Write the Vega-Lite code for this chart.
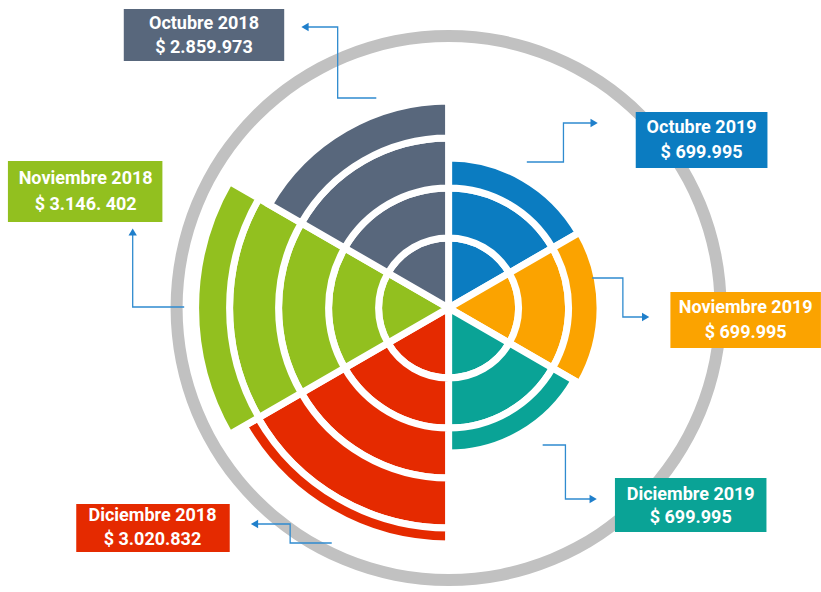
{
  "$schema": "https://vega.github.io/schema/vega-lite/v6.json",
  "width": 821,
  "height": 592,
  "autosize": {"type": "fit", "contains": "padding"},
  "padding": 0,
  "background": "white",
  "config": {"view": {"stroke": null}},
  "datasets": {
    "anillo": [{"r0": 266, "r1": 278, "a0": 0, "a1": 360}],
    "bandas": [
      {"sector": "Octubre 2019", "banda": 1, "a0": 0, "a1": 60, "r0": 0, "r1": 70},
      {"sector": "Octubre 2019", "banda": 2, "a0": 0, "a1": 60, "r0": 70, "r1": 120},
      {"sector": "Octubre 2019", "banda": 3, "a0": 0, "a1": 60, "r0": 120, "r1": 150},
      {"sector": "Noviembre 2019", "banda": 1, "a0": 60, "a1": 120, "r0": 0, "r1": 70},
      {"sector": "Noviembre 2019", "banda": 2, "a0": 60, "a1": 120, "r0": 70, "r1": 120},
      {"sector": "Noviembre 2019", "banda": 3, "a0": 60, "a1": 120, "r0": 120, "r1": 151.5},
      {"sector": "Diciembre 2019", "banda": 1, "a0": 120, "a1": 180, "r0": 0, "r1": 70},
      {"sector": "Diciembre 2019", "banda": 2, "a0": 120, "a1": 180, "r0": 70, "r1": 120},
      {"sector": "Diciembre 2019", "banda": 3, "a0": 120, "a1": 180, "r0": 120, "r1": 145},
      {"sector": "Diciembre 2018", "banda": 1, "a0": 180, "a1": 240, "r0": 0, "r1": 70},
      {"sector": "Diciembre 2018", "banda": 2, "a0": 180, "a1": 240, "r0": 70, "r1": 120},
      {"sector": "Diciembre 2018", "banda": 3, "a0": 180, "a1": 240, "r0": 120, "r1": 170},
      {"sector": "Diciembre 2018", "banda": 4, "a0": 180, "a1": 240, "r0": 170, "r1": 220},
      {"sector": "Diciembre 2018", "banda": 5, "a0": 180, "a1": 240, "r0": 220, "r1": 236},
      {"sector": "Noviembre 2018", "banda": 1, "a0": 240, "a1": 300, "r0": 0, "r1": 70},
      {"sector": "Noviembre 2018", "banda": 2, "a0": 240, "a1": 300, "r0": 70, "r1": 120},
      {"sector": "Noviembre 2018", "banda": 3, "a0": 240, "a1": 300, "r0": 120, "r1": 170},
      {"sector": "Noviembre 2018", "banda": 4, "a0": 240, "a1": 300, "r0": 170, "r1": 219},
      {"sector": "Noviembre 2018", "banda": 5, "a0": 240, "a1": 300, "r0": 219, "r1": 253},
      {"sector": "Octubre 2018", "banda": 1, "a0": 300, "a1": 360, "r0": 0, "r1": 70},
      {"sector": "Octubre 2018", "banda": 2, "a0": 300, "a1": 360, "r0": 70, "r1": 120},
      {"sector": "Octubre 2018", "banda": 3, "a0": 300, "a1": 360, "r0": 120, "r1": 170},
      {"sector": "Octubre 2018", "banda": 4, "a0": 300, "a1": 360, "r0": 170, "r1": 207}
    ],
    "conectores": [
      {"sector": "Octubre 2018", "paso": 1, "x": -73, "y": 210},
      {"sector": "Octubre 2018", "paso": 2, "x": -112, "y": 210},
      {"sector": "Octubre 2018", "paso": 3, "x": -112, "y": 281},
      {"sector": "Octubre 2018", "paso": 4, "x": -145, "y": 281},
      {"sector": "Octubre 2019", "paso": 1, "x": 79, "y": 146},
      {"sector": "Octubre 2019", "paso": 2, "x": 116, "y": 146},
      {"sector": "Octubre 2019", "paso": 3, "x": 116, "y": 185},
      {"sector": "Octubre 2019", "paso": 4, "x": 147, "y": 185},
      {"sector": "Noviembre 2019", "paso": 1, "x": 145, "y": 30},
      {"sector": "Noviembre 2019", "paso": 2, "x": 176, "y": 30},
      {"sector": "Noviembre 2019", "paso": 3, "x": 176, "y": -9},
      {"sector": "Noviembre 2019", "paso": 4, "x": 199, "y": -9},
      {"sector": "Diciembre 2019", "paso": 1, "x": 95, "y": -137},
      {"sector": "Diciembre 2019", "paso": 2, "x": 118, "y": -137},
      {"sector": "Diciembre 2019", "paso": 3, "x": 118, "y": -191},
      {"sector": "Diciembre 2019", "paso": 4, "x": 146, "y": -191},
      {"sector": "Diciembre 2018", "paso": 1, "x": -118, "y": -235},
      {"sector": "Diciembre 2018", "paso": 2, "x": -160, "y": -235},
      {"sector": "Diciembre 2018", "paso": 3, "x": -160, "y": -216},
      {"sector": "Diciembre 2018", "paso": 4, "x": -196, "y": -216},
      {"sector": "Noviembre 2018", "paso": 1, "x": -267, "y": 1},
      {"sector": "Noviembre 2018", "paso": 2, "x": -319, "y": 1},
      {"sector": "Noviembre 2018", "paso": 3, "x": -319, "y": 76}
    ],
    "flechas": [
      {"sector": "Octubre 2018", "direccion": "izquierda", "x": -145, "y": 281},
      {"sector": "Octubre 2019", "direccion": "derecha", "x": 147, "y": 185},
      {"sector": "Noviembre 2019", "direccion": "derecha", "x": 199, "y": -9},
      {"sector": "Diciembre 2019", "direccion": "derecha", "x": 146, "y": -191},
      {"sector": "Diciembre 2018", "direccion": "izquierda", "x": -196, "y": -216},
      {"sector": "Noviembre 2018", "direccion": "arriba", "x": -319, "y": 76}
    ],
    "cajas": [
      {"sector": "Octubre 2018", "x0": -328, "x1": -166, "y0": 299, "y1": 247},
      {"sector": "Octubre 2019", "x0": 189, "x1": 322, "y0": 196, "y1": 140},
      {"sector": "Noviembre 2019", "x0": 224, "x1": 376, "y0": 16, "y1": -40},
      {"sector": "Diciembre 2019", "x0": 168, "x1": 321, "y0": -170, "y1": -224},
      {"sector": "Diciembre 2018", "x0": -376, "x1": -221, "y0": -196, "y1": -244},
      {"sector": "Noviembre 2018", "x0": -445, "x1": -289, "y0": 147, "y1": 86}
    ],
    "textos": [
      {"x": -247, "y": 284, "texto": "Octubre 2018"},
      {"x": -247, "y": 260, "texto": "$ 2.859.973"},
      {"x": 255.5, "y": 180.5, "texto": "Octubre 2019"},
      {"x": 255.5, "y": 155.5, "texto": "$ 699.995"},
      {"x": 300, "y": 0.5, "texto": "Noviembre 2019"},
      {"x": 300, "y": -25, "texto": "$ 699.995"},
      {"x": 244.5, "y": -186.5, "texto": "Diciembre 2019"},
      {"x": 244.5, "y": -210, "texto": "$ 699.995"},
      {"x": -299, "y": -207.5, "texto": "Diciembre 2018"},
      {"x": -299, "y": -232, "texto": "$ 3.020.832"},
      {"x": -366.5, "y": 129, "texto": "Noviembre 2018"},
      {"x": -366.5, "y": 103.5, "texto": "$ 3.146. 402"}
    ]
  },
  "layer": [
    {
      "data": {"name": "anillo"},
      "mark": {"type": "arc", "color": "#c1c1c1"},
      "encoding": {
        "x": {"datum": 0, "type": "quantitative", "scale": {"domain": [-453, 368], "nice": false, "zero": false}, "axis": null},
        "y": {"datum": 0, "type": "quantitative", "scale": {"domain": [-284, 308], "nice": false, "zero": false}, "axis": null},
        "theta": {"field": "a0", "type": "quantitative", "stack": null, "scale": {"type": "linear", "domain": [0, 360], "range": [0, 6.283185307179586]}},
        "theta2": {"field": "a1"},
        "radius": {"field": "r1", "type": "quantitative", "scale": {"type": "linear", "domain": [0, 300], "range": [0, 300], "zero": true, "nice": false}},
        "radius2": {"field": "r0"}
      }
    },
    {
      "data": {"name": "bandas"},
      "mark": {"type": "arc", "stroke": "white", "strokeWidth": 7, "strokeJoin": "miter"},
      "encoding": {
        "x": {"datum": 0, "type": "quantitative"},
        "y": {"datum": 0, "type": "quantitative"},
        "theta": {"field": "a0", "type": "quantitative", "stack": null},
        "theta2": {"field": "a1"},
        "radius": {"field": "r1", "type": "quantitative"},
        "radius2": {"field": "r0"},
        "fill": {"field": "sector", "type": "nominal", "legend": null,
          "scale": {"domain": ["Octubre 2018", "Noviembre 2018", "Diciembre 2018", "Octubre 2019", "Noviembre 2019", "Diciembre 2019"],
                    "range": ["#58677c", "#92c01f", "#e52a00", "#0b7cc1", "#fba300", "#0aa396"]}},
        "order": {"field": "banda"}
      }
    },
    {
      "data": {"name": "conectores"},
      "mark": {"type": "line", "color": "#2f8bcf", "strokeWidth": 1.3, "interpolate": "linear"},
      "encoding": {
        "x": {"field": "x", "type": "quantitative"},
        "y": {"field": "y", "type": "quantitative"},
        "detail": {"field": "sector"},
        "order": {"field": "paso"}
      }
    },
    {
      "data": {"name": "flechas"},
      "mark": {"type": "point", "filled": true, "color": "#1f7fcb", "size": 70, "opacity": 1},
      "encoding": {
        "x": {"field": "x", "type": "quantitative"},
        "y": {"field": "y", "type": "quantitative"},
        "shape": {"field": "direccion", "type": "nominal", "legend": null,
          "scale": {"domain": ["izquierda", "derecha", "arriba"], "range": ["triangle-left", "triangle-right", "triangle-up"]}}
      }
    },
    {
      "data": {"name": "cajas"},
      "mark": {"type": "rect"},
      "encoding": {
        "x": {"field": "x0", "type": "quantitative"},
        "x2": {"field": "x1"},
        "y": {"field": "y0", "type": "quantitative"},
        "y2": {"field": "y1"},
        "fill": {"field": "sector", "type": "nominal", "legend": null}
      }
    },
    {
      "data": {"name": "textos"},
      "mark": {"type": "text", "color": "white", "font": "Roboto", "fontWeight": "bold", "fontSize": 18, "align": "center", "baseline": "middle"},
      "encoding": {
        "x": {"field": "x", "type": "quantitative"},
        "y": {"field": "y", "type": "quantitative"},
        "text": {"field": "texto"}
      }
    }
  ]
}
